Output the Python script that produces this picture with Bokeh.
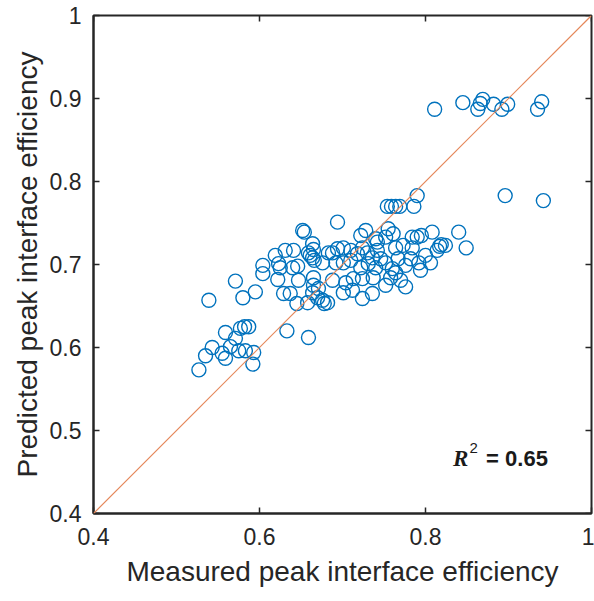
import math
from bokeh.plotting import figure
from bokeh.models import LinearAxis, Range1d, Slope, Label, FixedTicker
from bokeh.embed import file_html
from bokeh.resources import INLINE

measured = [
    0.527, 0.535, 0.543, 0.555, 0.559, 0.559, 0.565, 0.571, 0.577, 0.582,
    0.587, 0.575, 0.583, 0.593, 0.592, 0.539, 0.571, 0.580, 0.595, 0.633,
    0.659, 0.604, 0.604, 0.619, 0.623, 0.625, 0.631, 0.641, 0.640, 0.646,
    0.622, 0.647, 0.629, 0.637, 0.645, 0.652, 0.654, 0.664, 0.659, 0.661,
    0.664, 0.665, 0.666, 0.665, 0.665, 0.664, 0.670, 0.676, 0.678, 0.658,
    0.671, 0.694, 0.688, 0.694, 0.701, 0.710, 0.718, 0.724, 0.730, 0.736,
    0.742, 0.692, 0.701, 0.710, 0.722, 0.731, 0.740, 0.688, 0.704, 0.701,
    0.712, 0.724, 0.736, 0.682, 0.722, 0.728, 0.740, 0.713, 0.724, 0.737,
    0.758, 0.683, 0.676, 0.752, 0.776, 0.754, 0.759, 0.764, 0.769, 0.786,
    0.790, 0.755, 0.761, 0.752, 0.742, 0.746, 0.764, 0.773, 0.784, 0.784,
    0.790, 0.795, 0.808, 0.814, 0.817, 0.819, 0.840, 0.849, 0.824, 0.752,
    0.760, 0.767, 0.776, 0.782, 0.792, 0.800, 0.806, 0.764, 0.794, 0.770,
    0.811, 0.845, 0.863, 0.866, 0.869, 0.882, 0.892, 0.899, 0.935, 0.940,
    0.896, 0.942,
]
predicted = [
    0.573, 0.590, 0.600, 0.593, 0.587, 0.618, 0.601, 0.611, 0.623, 0.625,
    0.625, 0.596, 0.596, 0.594, 0.580, 0.657, 0.680, 0.660, 0.667, 0.620,
    0.612, 0.699, 0.689, 0.711, 0.701, 0.696, 0.717, 0.717, 0.696, 0.698,
    0.682, 0.681, 0.665, 0.665, 0.653, 0.741, 0.739, 0.725, 0.714, 0.711,
    0.708, 0.718, 0.705, 0.684, 0.675, 0.666, 0.660, 0.657, 0.653, 0.654,
    0.671, 0.751, 0.714, 0.719, 0.720, 0.717, 0.713, 0.720, 0.714, 0.708,
    0.717, 0.702, 0.702, 0.705, 0.696, 0.701, 0.696, 0.681, 0.678, 0.666,
    0.669, 0.659, 0.665, 0.654, 0.735, 0.741, 0.731, 0.683, 0.683, 0.684,
    0.684, 0.714, 0.702, 0.675, 0.673, 0.770, 0.770, 0.770, 0.770, 0.770,
    0.783, 0.743, 0.737, 0.733, 0.727, 0.707, 0.720, 0.723, 0.720, 0.733,
    0.733, 0.735, 0.739, 0.717, 0.722, 0.724, 0.739, 0.720, 0.723, 0.702,
    0.695, 0.707, 0.699, 0.707, 0.702, 0.711, 0.702, 0.690, 0.693, 0.681,
    0.887, 0.895, 0.887, 0.894, 0.899, 0.893, 0.887, 0.893, 0.887, 0.896,
    0.783, 0.777,
]
ticks_x = [0.4, 0.6, 0.8, 1.0]
ticks_y = [0.4, 0.5, 0.6, 0.7, 0.8, 0.9, 1.0]
x_title = "Measured peak interface efficiency"
y_title = "Predicted peak interface efficiency"
r2_text = "= 0.65"

AX = "#262626"
FONT = "Liberation Sans"
LO, HI = 0.4, 1.0

p = figure(width=594, height=601, output_backend="svg", toolbar_location=None,
           x_range=Range1d(LO, HI), y_range=Range1d(LO, HI),
           x_axis_type=None, y_axis_type=None,
           min_border_left=93, min_border_right=3, min_border_top=15,
           min_border_bottom=88)
p.background_fill_color = "white"
p.border_fill_color = "white"
p.outline_line_color = AX
p.outline_line_width = 2
p.xgrid.visible = False
p.ygrid.visible = False


def style(ax):
    ax.axis_line_color = AX
    ax.axis_line_width = 2
    ax.major_tick_line_color = AX
    ax.major_tick_line_width = 1.5
    ax.major_tick_in = 6
    ax.major_tick_out = 0
    ax.minor_tick_line_color = None
    ax.major_label_text_font = FONT
    ax.major_label_text_color = AX
    ax.major_label_text_font_size = "23px"
    ax.axis_label_text_font = FONT
    ax.axis_label_text_color = AX
    ax.axis_label_text_font_style = "normal"
    ax.axis_label_text_font_size = "28px"


xb = LinearAxis(ticker=FixedTicker(ticks=ticks_x), axis_label=x_title)
style(xb)
xb.major_label_standoff = 14
xb.axis_label_standoff = 8
p.add_layout(xb, "below")

yl = LinearAxis(ticker=FixedTicker(ticks=ticks_y), axis_label=y_title)
style(yl)
yl.major_label_standoff = 12
yl.axis_label_standoff = 4
p.add_layout(yl, "left")

# inward ticks on the top and right edges of the box
p.ray(x=ticks_x, y=[HI] * len(ticks_x), length=6, length_units="screen",
      angle=-math.pi / 2, line_color=AX, line_width=1.5)
p.ray(x=[HI] * len(ticks_y), y=ticks_y, length=6, length_units="screen",
      angle=math.pi, line_color=AX, line_width=1.5)

p.add_layout(Slope(gradient=1, y_intercept=0, line_color="#E5875A", line_width=1.2))

p.scatter(measured, predicted, marker="circle", size=14, fill_color=None,
          line_color="#0072BD", line_width=1.4)

p.add_layout(Label(x=0.833, y=0.466, text="R", text_font="Liberation Serif",
                   text_font_style="bold italic", text_font_size="23px",
                   text_color="#1a1a1a", text_baseline="alphabetic"))
p.add_layout(Label(x=0.853, y=0.479, text="2", text_font=FONT,
                   text_font_style="normal", text_font_size="15px",
                   text_color="#1a1a1a", text_baseline="alphabetic"))
p.add_layout(Label(x=0.873, y=0.466, text=r2_text, text_font=FONT,
                   text_font_style="bold", text_font_size="22px",
                   text_color="#1a1a1a", text_baseline="alphabetic"))

open("out.html", "w").write(file_html(p, INLINE))
